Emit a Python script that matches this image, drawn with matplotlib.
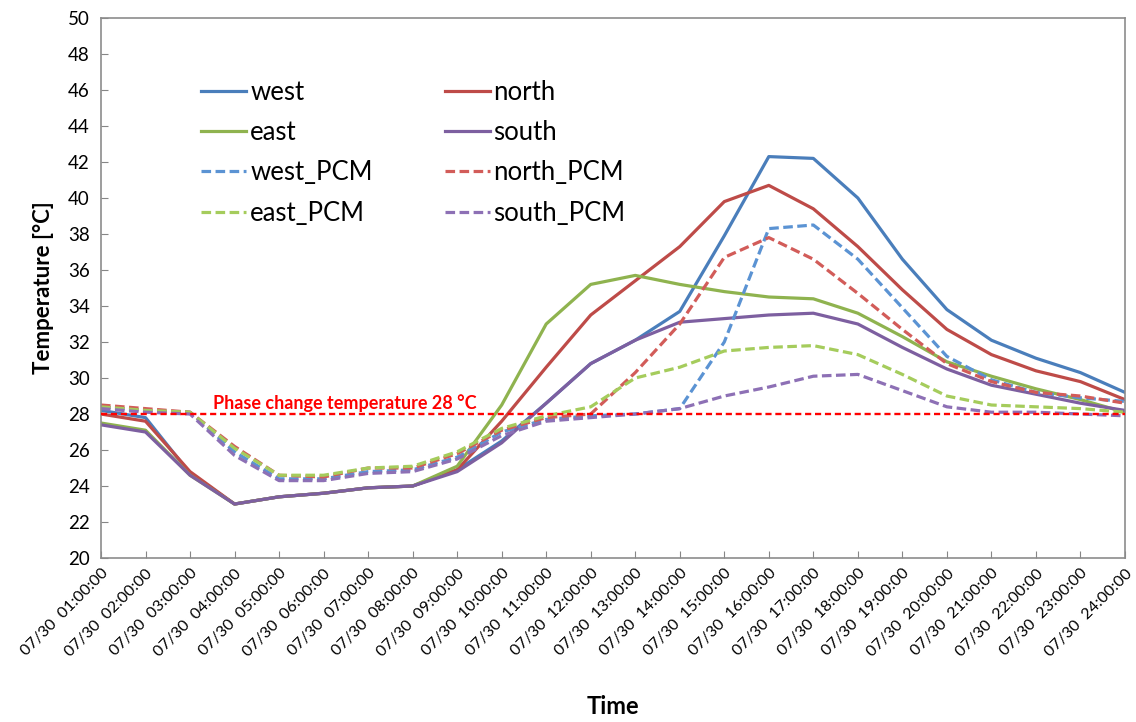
import matplotlib
matplotlib.use('Agg')
from matplotlib import pyplot as plt

plt.rcParams['font.family'] = ['Lato', 'DejaVu Sans']

# dados (temperatura por hora)
horas = list(range(1, 25))
rotulos = ['07/30  %02d:00:00' % h for h in horas]

west = [28.2, 27.8, 24.7, 23.0, 23.4, 23.6, 23.9, 24.0, 24.9, 26.5, 28.6, 30.8,
        32.1, 33.7, 37.9, 42.3, 42.2, 40.0, 36.6, 33.8, 32.1, 31.1, 30.3, 29.2]
north = [28.0, 27.6, 24.8, 23.0, 23.4, 23.6, 23.9, 24.0, 24.9, 27.6, 30.6, 33.5,
         35.4, 37.3, 39.8, 40.7, 39.4, 37.3, 34.9, 32.7, 31.3, 30.4, 29.8, 28.8]
east = [27.5, 27.1, 24.6, 23.0, 23.4, 23.6, 23.9, 24.0, 25.1, 28.5, 33.0, 35.2,
        35.7, 35.2, 34.8, 34.5, 34.4, 33.6, 32.3, 30.9, 30.1, 29.4, 28.8, 28.1]
south = [27.4, 27.0, 24.6, 23.0, 23.4, 23.6, 23.9, 24.0, 24.8, 26.4, 28.6, 30.8,
         32.1, 33.1, 33.3, 33.5, 33.6, 33.0, 31.7, 30.5, 29.6, 29.1, 28.6, 28.2]
west_pcm = [28.4, 28.2, 28.1, 25.9, 24.4, 24.4, 24.8, 24.9, 25.6, 27.0, 27.7, 27.9,
            28.0, 28.3, 32.0, 38.3, 38.5, 36.6, 33.9, 31.2, 29.9, 29.2, 28.9, 28.7]
north_pcm = [28.5, 28.3, 28.1, 26.2, 24.6, 24.5, 25.0, 25.0, 25.8, 27.1, 27.8, 28.0,
             30.3, 33.0, 36.7, 37.8, 36.6, 34.7, 32.7, 30.8, 29.8, 29.2, 29.0, 28.6]
east_pcm = [28.4, 28.2, 28.1, 26.1, 24.6, 24.6, 25.0, 25.1, 25.9, 27.2, 27.9, 28.4,
            30.0, 30.6, 31.5, 31.7, 31.8, 31.3, 30.2, 29.0, 28.5, 28.4, 28.3, 28.1]
south_pcm = [28.3, 28.1, 28.0, 25.7, 24.3, 24.3, 24.7, 24.8, 25.5, 26.8, 27.6, 27.8,
             28.0, 28.3, 29.0, 29.5, 30.1, 30.2, 29.3, 28.4, 28.1, 28.1, 28.0, 27.9]
t_fase = 28

fig = plt.figure(figsize=(11.36, 7.22), dpi=100)
ax = fig.add_axes([0.0889, 0.2271, 0.9014, 0.748])

tracejado = (0, (3, 1.4))
series = [
    ('west', west, '#4a7ebb', '-'),
    ('north', north, '#be4b48', '-'),
    ('east', east, '#8fb34f', '-'),
    ('south', south, '#7d5fa0', '-'),
    ('west_PCM', west_pcm, '#5b93d3', tracejado),
    ('north_PCM', north_pcm, '#d25c59', tracejado),
    ('east_PCM', east_pcm, '#a5cc5c', tracejado),
    ('south_PCM', south_pcm, '#8d70b5', tracejado),
]
linhas = {}
for nome, vals, cor, estilo in series:
    l, = ax.plot(horas, vals, color=cor, linestyle=estilo, lw=2.3, label=nome)
    linhas[nome] = l

# linha da temperatura de mudanca de fase
ax.plot([horas[0], horas[-1]], [t_fase, t_fase], color='#ff0000',
        linestyle=(0, (2.6, 1.6)), lw=1.7, zorder=5)
ax.text(3.52, 28.12, 'Phase change temperature 28 °C', color='#ff0000',
        fontsize=13, fontweight='bold', va='bottom', ha='left')

ax.set_xlim(1, 24)
ax.set_ylim(20, 50)
ax.set_yticks(range(20, 51, 2))
ax.set_xticks(horas)
ax.set_xticklabels(rotulos, rotation=45, ha='right', va='top',
                   rotation_mode='anchor', fontsize=11.5)
ax.tick_params(axis='y', labelsize=13.5, direction='in', length=5,
               color='#868686', pad=8)
ax.tick_params(axis='x', direction='in', length=5, color='#868686', pad=6)
for s in ax.spines.values():
    s.set_color('#8c8c8c')
    s.set_linewidth(1.2)

ax.set_ylabel('Temperature [°C]', fontsize=16, fontweight='bold', labelpad=10)
ax.set_xlabel('Time', fontsize=17, fontweight='bold', labelpad=26)

ordem = ['west', 'east', 'west_PCM', 'east_PCM',
         'north', 'south', 'north_PCM', 'south_PCM']
ax.legend([linhas[n] for n in ordem], ordem, ncol=2, frameon=False,
          loc='upper left', bbox_to_anchor=(0.088, 0.905), borderaxespad=0,
          fontsize=18.5, handlelength=1.75, handletextpad=0.15,
          labelspacing=0.6, columnspacing=2.8)

fig.savefig('out.png', dpi=100)
